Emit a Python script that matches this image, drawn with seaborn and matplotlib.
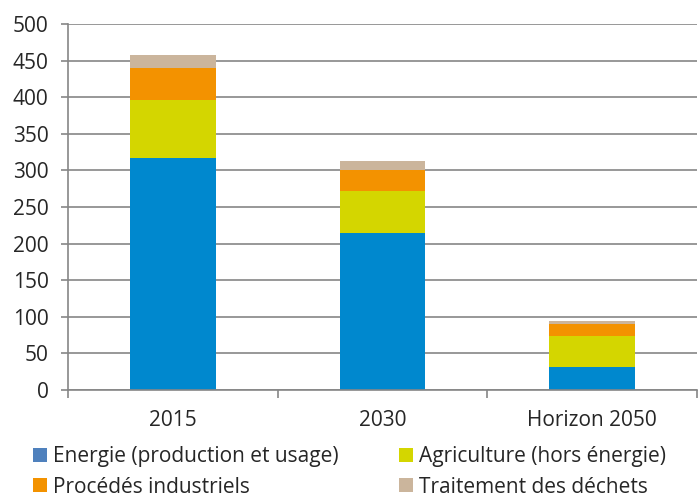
import matplotlib
matplotlib.use("Agg")
import matplotlib.pyplot as plt
from matplotlib.patches import Patch
import numpy as np
import pandas as pd
import seaborn as sns

# données (MtCO2e)
annees = ["2015", "2030", "Horizon 2050"]
energie = [317, 215, 31]
agriculture = [79, 57, 43]
procedes = [44, 28, 16]
dechets = [18, 13, 4]

series = ["Energie (production et usage)", "Agriculture (hors énergie)",
          "Procédés industriels", "Traitement des déchets"]
couleurs_barres = ["#0088ce", "#d4d600", "#f39200", "#cbb59c"]
couleurs_legende = ["#4f81bd", "#d4d600", "#f39200", "#cbb59c"]

sns.set_style("white")
plt.rcParams["font.family"] = ["Open Sans", "DejaVu Sans"]
taille = 15

fig = plt.figure(figsize=(6.98, 5.01), dpi=100)
ax = fig.add_axes([68 / 698, 111 / 501, 629 / 698, 366 / 501])

# empilement: on trace les cumuls du haut vers le bas
valeurs = np.array([energie, agriculture, procedes, dechets])
cumul = valeurs.cumsum(axis=0)
for i in range(len(series) - 1, -1, -1):
    df = pd.DataFrame({"annee": annees, "val": cumul[i]})
    sns.barplot(data=df, x="annee", y="val", color=couleurs_barres[i],
                width=0.41, saturation=1, linewidth=0, ax=ax, zorder=2)

gris = "#868686"
ax.set_ylim(0, 500)
ax.set_xlim(-0.5, 2.5)
ax.set_yticks(range(0, 501, 50))
ax.yaxis.grid(True, color=gris, linewidth=1.2, zorder=0)
ax.set_axisbelow(True)
ax.set_xlabel("")
ax.set_ylabel("")
for s in ["top", "right"]:
    ax.spines[s].set_visible(False)
for s in ["left", "bottom"]:
    ax.spines[s].set_color(gris)
    ax.spines[s].set_linewidth(1.2)
ax.tick_params(axis="y", left=True, length=5, color=gris, width=1.2,
               labelsize=taille, pad=9)
ax.tick_params(axis="x", bottom=False, labelsize=taille, pad=11)
ax.set_xticks([-0.5, 0.5, 1.5, 2.5], minor=True)
ax.tick_params(axis="x", which="minor", bottom=True, length=6,
               color=gris, width=1.2)

# légende sur deux colonnes, remplie ligne par ligne
ordre = [0, 2, 1, 3]
handles = [Patch(facecolor=couleurs_legende[k], edgecolor="none") for k in ordre]
labels = [series[k] for k in ordre]
fig.legend(handles, labels, loc="upper left", ncol=2,
           bbox_to_anchor=(25 / 698, 1 - 438 / 501), frameon=False,
           fontsize=taille, handlelength=0.67, handleheight=0.67,
           handletextpad=0.29, columnspacing=2.9, labelspacing=0.45,
           borderaxespad=0)

fig.savefig("out.png", dpi=100)
